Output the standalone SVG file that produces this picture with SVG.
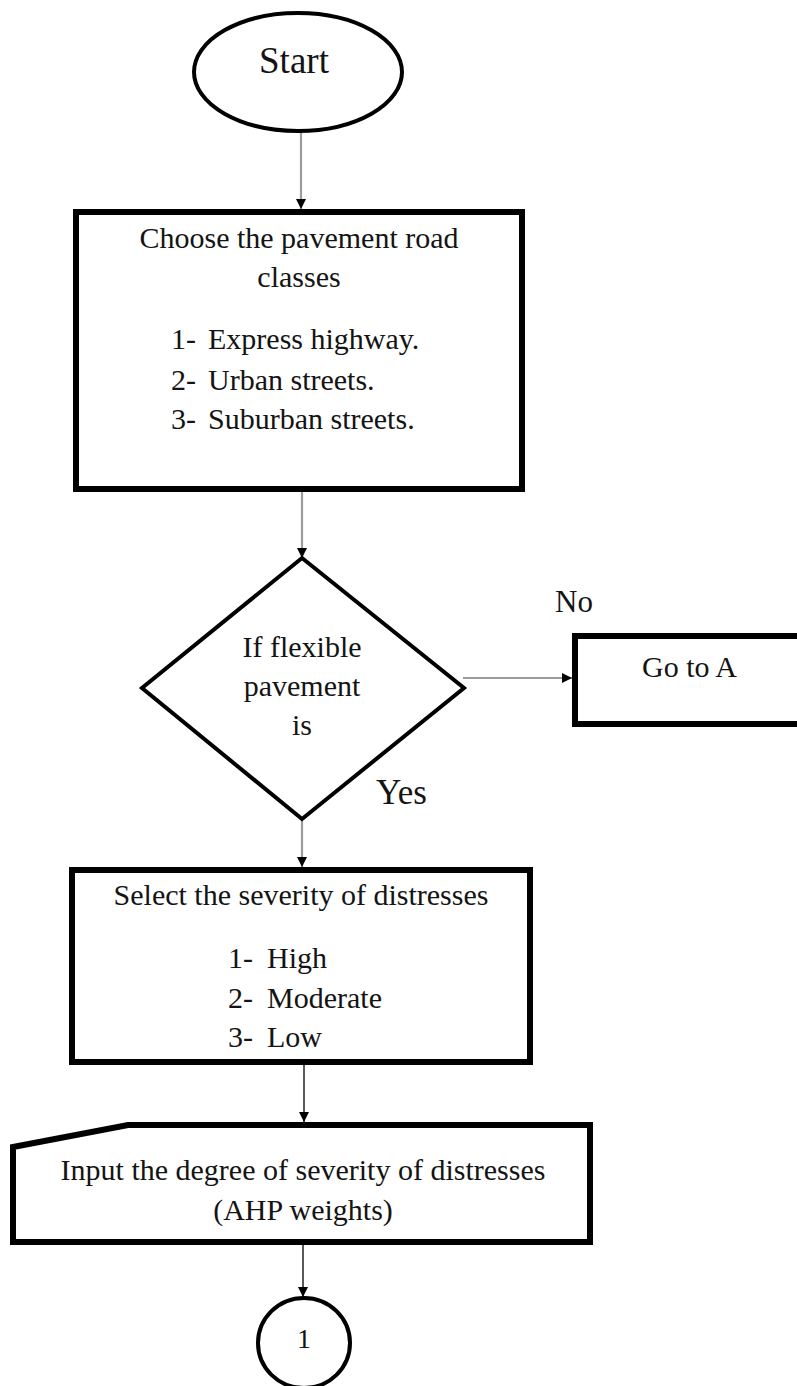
<svg xmlns="http://www.w3.org/2000/svg" width="797" height="1386" viewBox="0 0 797 1386">
  <defs>
    <style>
      text { font-family: "Liberation Serif", "Times New Roman", serif; fill: #141414; }
      .t30 { font-size: 30px; }
      .mid { text-anchor: middle; }
      .box { fill: #fff; stroke: #000; stroke-width: 6; }
      .thin { fill: #fff; stroke: #000; stroke-width: 4; stroke-linejoin: miter; }
      .grey { stroke: #9c9c9c; stroke-width: 2.2; fill: none; }
      .dark { stroke: #222; stroke-width: 1.5; fill: none; }
    </style>
    <marker id="head" viewBox="0 0 10 10" refX="10" refY="5" markerWidth="10" markerHeight="10" markerUnits="userSpaceOnUse" orient="auto">
      <path d="M0,0 L10,5 L0,10 Z" fill="#000"/>
    </marker>
  </defs>

  <rect width="797" height="1386" fill="#fff"/>

  <!-- connectors -->
  <g id="connectors">
    <line class="grey" x1="301" y1="132" x2="301" y2="209" marker-end="url(#head)"/>
    <line class="grey" x1="302" y1="492" x2="302" y2="558" marker-end="url(#head)"/>
    <line class="grey" x1="463" y1="678" x2="572" y2="678" marker-end="url(#head)"/>
    <line class="grey" x1="302" y1="820" x2="302" y2="867" marker-end="url(#head)"/>
    <line class="dark" x1="304" y1="1065" x2="304" y2="1122" marker-end="url(#head)"/>
    <line class="dark" x1="303" y1="1245" x2="303" y2="1297" marker-end="url(#head)"/>
  </g>

  <!-- start terminator -->
  <g id="start">
    <ellipse cx="298" cy="72" rx="104" ry="59" fill="#fff" stroke="#000" stroke-width="4"/>
    <text x="294" y="73" class="mid" font-size="37">Start</text>
  </g>

  <!-- road class selection -->
  <g id="choose-classes">
    <rect class="box" x="76" y="212" width="446" height="277"/>
    <text x="299" y="248" class="t30 mid">Choose the pavement road</text>
    <text x="299" y="287" class="t30 mid">classes</text>
    <text y="349" class="t30"><tspan x="171">1-</tspan><tspan x="208">Express highway.</tspan></text>
    <text y="390" class="t30"><tspan x="171">2-</tspan><tspan x="208">Urban streets.</tspan></text>
    <text y="429" class="t30"><tspan x="171">3-</tspan><tspan x="208">Suburban streets.</tspan></text>
  </g>

  <!-- pavement type decision -->
  <g id="decision">
    <polygon class="thin" points="302,558 464,688 302,819 142,688"/>
    <text x="302" y="657" class="t30 mid">If flexible</text>
    <text x="302" y="696" class="t30 mid">pavement</text>
    <text x="302" y="735" class="t30 mid">is</text>
  </g>

  <g id="label-no">
    <text x="555" y="612" font-size="31">No</text>
  </g>
  <g id="label-yes">
    <text x="376" y="804" font-size="35">Yes</text>
  </g>

  <!-- off-page branch -->
  <g id="go-to-a">
    <rect class="box" x="575" y="636" width="240" height="88"/>
    <text x="642" y="677" class="t30">Go to A</text>
  </g>

  <!-- severity selection -->
  <g id="select-severity">
    <rect class="box" x="72" y="870" width="458" height="192"/>
    <text x="301" y="905" class="t30 mid">Select the severity of distresses</text>
    <text y="968" class="t30"><tspan x="228">1-</tspan><tspan x="267">High</tspan></text>
    <text y="1008" class="t30"><tspan x="228">2-</tspan><tspan x="267">Moderate</tspan></text>
    <text y="1047" class="t30"><tspan x="228">3-</tspan><tspan x="267">Low</tspan></text>
  </g>

  <!-- manual input -->
  <g id="input-weights">
    <path class="box" d="M13,1147 L128,1125 L590,1125 L590,1242 L13,1242 Z"/>
    <text x="303" y="1180" class="t30 mid">Input the degree of severity of distresses</text>
    <text x="303" y="1220" class="t30 mid">(AHP weights)</text>
  </g>

  <!-- connector to next page -->
  <g id="connector-1">
    <ellipse cx="304" cy="1343" rx="46" ry="45" fill="#fff" stroke="#000" stroke-width="4"/>
    <text x="304" y="1348" class="mid" font-size="28">1</text>
  </g>
</svg>
